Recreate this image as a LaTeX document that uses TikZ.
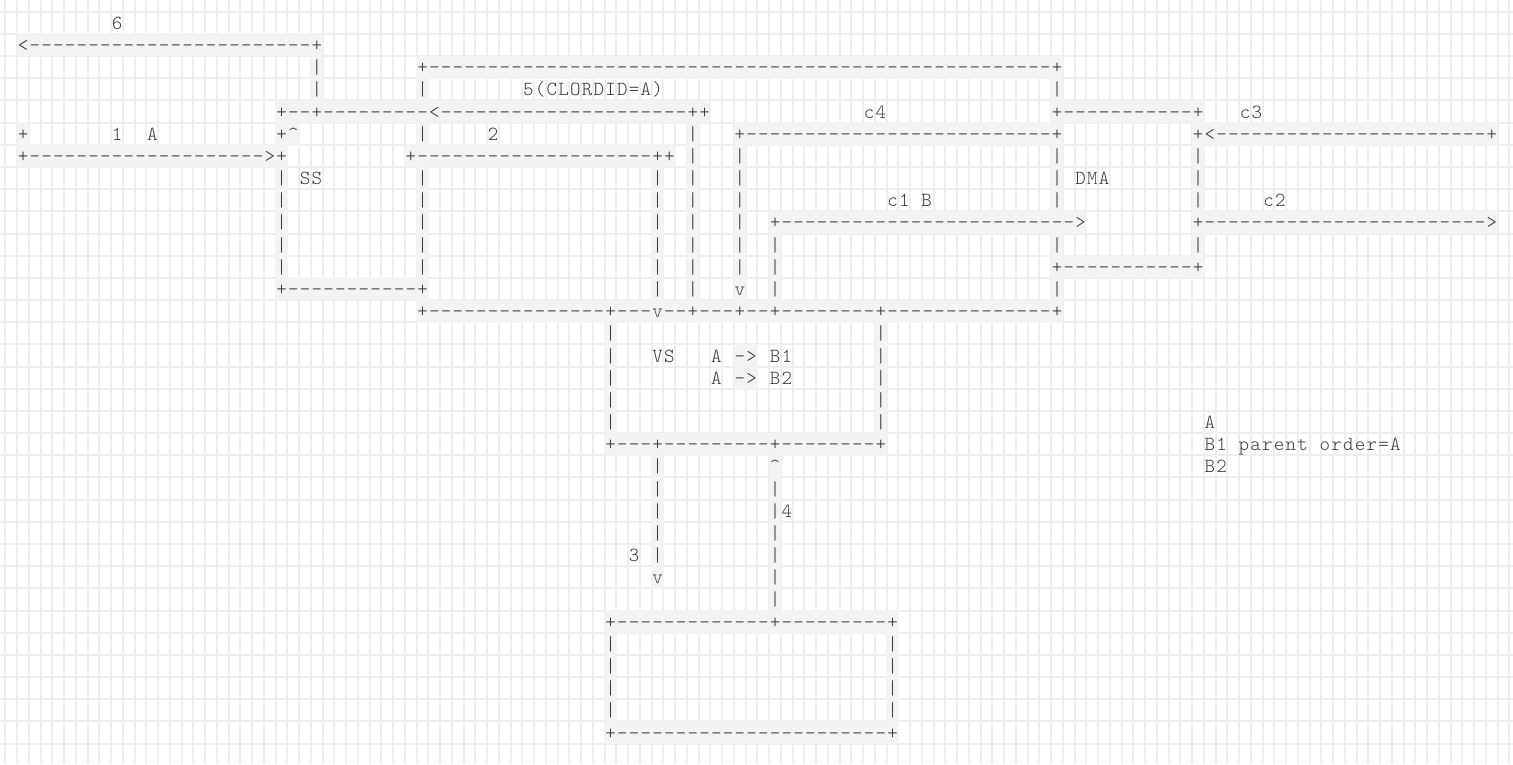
\documentclass[tikz,border=0pt]{standalone}
\usepackage{fontspec}
\setmonofont{lmmonolt10-regular}[Extension=.otf, LetterSpace=6.25]
\ExplSyntaxOn
\cs_new:Npn \dsh #1 {\prg_replicate:nn{#1}{-}}
\ExplSyntaxOff
\definecolor{txtc}{HTML}{3C3C3C}
\definecolor{hlc}{HTML}{F3F3F3}
\definecolor{gridc}{HTML}{EEEEEE}
\tikzset{
  cellbase/.style={font=\ttfamily\fontsize{20}{22}\selectfont, text=txtc, inner ysep=0.4pt, inner xsep=1pt,
    text height=17.59pt, text depth=4.59pt, anchor=base west},
  artcell/.style={cellbase, fill=hlc},
  txtcell/.style={cellbase},
  gridline/.style={draw=gridc, line width=2pt}
}
\newcommand\A[3]{\node[artcell] (a#1c#2) at ({17.125+11.75*#2-0.4},{29.3+22.18*#1}) {#3};}
\newcommand\T[3]{\node[txtcell] (t#1c#2) at ({17.125+11.75*#2-0.4},{29.3+22.18*#1}) {#3};}
\begin{document}
\begin{tikzpicture}[x=1pt,y=-1pt]
\useasboundingbox (0,0) rectangle (1513,764);
\fill[white] (0,0) rectangle (1513,764);
\foreach \k in {0,...,128} \draw[gridline] ({round(5.375+11.75*\k)},0) -- ({round(5.375+11.75*\k)},764);
\foreach \j in {0,...,33} \draw[gridline] (0,{round(11.71+22.18*\j)}) -- (1513,{round(11.71+22.18*\j)});
% row 0
\T{0}{8}{6}
% row 1
\A{1}{0}{<\dsh{24}+}
% row 2
\A{2}{25}{|}
\A{2}{34}{+\dsh{53}+}
% row 3
\A{3}{25}{|}
\A{3}{34}{|}
\T{3}{43}{5(CLORDID=A)}
\A{3}{88}{|}
% row 4
\A{4}{22}{+--+\dsh{9}<\dsh{21}++}
\T{4}{72}{c4}
\A{4}{88}{+\dsh{11}+}
\T{4}{104}{c3}
% row 5
\A{5}{0}{+}
\T{5}{8}{1}
\T{5}{11}{A}
\A{5}{22}{+\textasciicircum}
\A{5}{34}{|}
\T{5}{40}{2}
\A{5}{57}{|}
\A{5}{61}{+\dsh{26}+}
\A{5}{100}{+<\dsh{23}+}
% row 6
\A{6}{0}{+\dsh{20}>+}
\A{6}{33}{+\dsh{20}++}
\A{6}{57}{|}
\A{6}{61}{|}
\A{6}{88}{|}
\A{6}{100}{|}
% row 7
\A{7}{22}{|}
\T{7}{24}{SS}
\A{7}{34}{|}
\A{7}{54}{|}
\A{7}{57}{|}
\A{7}{61}{|}
\A{7}{88}{|}
\T{7}{90}{DMA}
\A{7}{100}{|}
% row 8
\A{8}{22}{|}
\A{8}{34}{|}
\A{8}{54}{|}
\A{8}{57}{|}
\A{8}{61}{|}
\T{8}{74}{c1 B}
\A{8}{88}{|}
\A{8}{100}{|}
\T{8}{106}{c2}
% row 9
\A{9}{22}{|}
\A{9}{34}{|}
\A{9}{54}{|}
\A{9}{57}{|}
\A{9}{61}{|}
\A{9}{64}{+\dsh{25}>}
\A{9}{100}{+\dsh{24}>}
% row 10
\A{10}{22}{|}
\A{10}{34}{|}
\A{10}{54}{|}
\A{10}{57}{|}
\A{10}{61}{|}
\A{10}{64}{|}
\A{10}{88}{|}
\A{10}{100}{|}
% row 11
\A{11}{22}{|}
\A{11}{34}{|}
\A{11}{54}{|}
\A{11}{57}{|}
\A{11}{61}{|}
\A{11}{64}{|}
\A{11}{88}{+\dsh{11}+}
% row 12
\A{12}{22}{+\dsh{11}+}
\A{12}{54}{|}
\A{12}{57}{|}
\A{12}{61}{v}
\A{12}{64}{|}
\A{12}{88}{|}
% row 13
\A{13}{34}{+\dsh{15}+---v--+---+--+\dsh{8}+\dsh{14}+}
% rows 14-18
\foreach \r in {14,...,18} {\A{\r}{50}{|}\A{\r}{73}{|}}
\T{15}{54}{VS}
\T{15}{59}{A}
\A{15}{61}{->}
\T{15}{64}{B1}
\T{16}{59}{A}
\A{16}{61}{->}
\T{16}{64}{B2}
\T{18}{101}{A}
% row 19
\A{19}{50}{+---+\dsh{9}+\dsh{8}+}
\T{19}{101}{B1 parent order=A}
% rows 20-26
\A{20}{54}{|}
\A{20}{64}{\textasciicircum}
\T{20}{101}{B2}
\foreach \r in {21,...,24} {\A{\r}{54}{|}\A{\r}{64}{|}}
\T{22}{65}{4}
\T{24}{52}{3}
\A{25}{54}{v}
\A{25}{64}{|}
\A{26}{64}{|}
% bottom box
\A{27}{50}{+\dsh{13}+\dsh{9}+}
\foreach \r in {28,...,31} {\A{\r}{50}{|}\A{\r}{74}{|}}
\A{32}{50}{+\dsh{23}+}
\end{tikzpicture}
\end{document}
